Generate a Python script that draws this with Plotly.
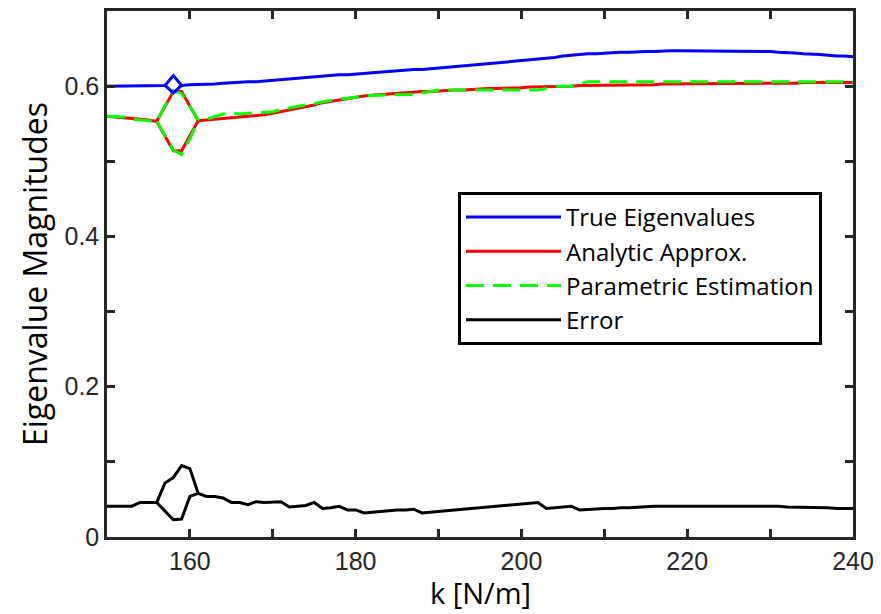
import plotly.graph_objects as go

# ---------------- data ----------------
k = list(range(150, 241))

true_eig = [
    0.600, 0.600, 0.600, 0.600, 0.600, 0.600, 0.600, 0.601, 0.614, 0.601,  # 150-159
    0.602, 0.602, 0.602, 0.603, 0.604, 0.605, 0.605, 0.606, 0.606, 0.607,  # 160-169
    0.608, 0.609, 0.610, 0.610, 0.611, 0.612, 0.613, 0.614, 0.615, 0.615,  # 170-179
    0.616, 0.617, 0.618, 0.619, 0.619, 0.620, 0.621, 0.622, 0.622, 0.623,  # 180-189
    0.624, 0.625, 0.626, 0.627, 0.628, 0.629, 0.630, 0.631, 0.632, 0.633,  # 190-199
    0.634, 0.635, 0.636, 0.637, 0.638, 0.640, 0.641, 0.642, 0.643, 0.643,  # 200-209
    0.644, 0.644, 0.645, 0.645, 0.646, 0.646, 0.646, 0.647, 0.647, 0.647,  # 210-219
    0.647, 0.647, 0.647, 0.647, 0.647, 0.647, 0.647, 0.647, 0.646, 0.646,  # 220-229
    0.646, 0.645, 0.645, 0.644, 0.643, 0.643, 0.642, 0.641, 0.640, 0.640,  # 230-239
    0.639,                                                                 # 240
]
true_eig_k2 = [157, 158, 159]
true_eig_2 = [0.601, 0.591, 0.601]

analytic = [
    0.560, 0.559, 0.558, 0.557, 0.556, 0.555, 0.553, 0.573, 0.593, 0.593,  # 150-159
    0.574, 0.554, 0.555, 0.556, 0.557, 0.558, 0.559, 0.560, 0.561, 0.562,  # 160-169
    0.564, 0.566, 0.568, 0.570, 0.573, 0.575, 0.578, 0.580, 0.582, 0.584,  # 170-179
    0.585, 0.587, 0.588, 0.589, 0.590, 0.591, 0.591, 0.592, 0.593, 0.593,  # 180-189
    0.594, 0.594, 0.595, 0.595, 0.596, 0.596, 0.597, 0.597, 0.597, 0.598,  # 190-199
    0.598, 0.599, 0.599, 0.599, 0.600, 0.600, 0.600, 0.601, 0.601, 0.601,  # 200-209
    0.601, 0.602, 0.602, 0.602, 0.602, 0.602, 0.602, 0.603, 0.603, 0.603,  # 210-219
    0.603, 0.603, 0.603, 0.603, 0.603, 0.604, 0.604, 0.604, 0.604, 0.604,  # 220-229
    0.604, 0.604, 0.604, 0.604, 0.605, 0.605, 0.605, 0.605, 0.605, 0.605,  # 230-239
    0.605,                                                                 # 240
]
analytic_k2 = [156, 157, 158, 159, 160, 161]
analytic_2 = [0.553, 0.534, 0.514, 0.514, 0.534, 0.554]

parametric = [
    0.560, 0.560, 0.559, 0.556, 0.555, 0.554, 0.553, 0.574, 0.594, 0.590,  # 150-159
    0.572, 0.555, 0.556, 0.560, 0.563, 0.564, 0.563, 0.564, 0.565, 0.565,  # 160-169
    0.566, 0.569, 0.571, 0.573, 0.575, 0.577, 0.579, 0.581, 0.583, 0.584,  # 170-179
    0.585, 0.586, 0.588, 0.588, 0.588, 0.588, 0.588, 0.589, 0.591, 0.593,  # 180-189
    0.595, 0.595, 0.595, 0.595, 0.595, 0.595, 0.595, 0.595, 0.595, 0.595,  # 190-199
    0.595, 0.595, 0.595, 0.597, 0.600, 0.600, 0.600, 0.603, 0.606, 0.606,  # 200-209
    0.606, 0.606, 0.606, 0.606, 0.606, 0.606, 0.606, 0.606, 0.606, 0.606,  # 210-219
    0.606, 0.606, 0.606, 0.606, 0.606, 0.606, 0.606, 0.606, 0.606, 0.606,  # 220-229
    0.606, 0.606, 0.606, 0.606, 0.606, 0.606, 0.606, 0.606, 0.606, 0.606,  # 230-239
    0.606,                                                                 # 240
]
parametric_k2 = [156, 157, 158, 159, 160, 161]
parametric_2 = [0.553, 0.533, 0.515, 0.509, 0.530, 0.555]

error = [
    0.041, 0.041, 0.041, 0.041, 0.046, 0.046, 0.046, 0.072, 0.079, 0.095,  # 150-159
    0.091, 0.058, 0.054, 0.054, 0.052, 0.046, 0.046, 0.043, 0.047, 0.046,  # 160-169
    0.046, 0.047, 0.040, 0.041, 0.042, 0.046, 0.038, 0.039, 0.041, 0.036,  # 170-179
    0.036, 0.032, 0.033, 0.034, 0.035, 0.036, 0.036, 0.037, 0.032, 0.033,  # 180-189
    0.034, 0.035, 0.036, 0.037, 0.038, 0.039, 0.040, 0.041, 0.042, 0.043,  # 190-199
    0.044, 0.045, 0.046, 0.038, 0.039, 0.040, 0.041, 0.036, 0.037, 0.037,  # 200-209
    0.038, 0.038, 0.039, 0.039, 0.040, 0.040, 0.041, 0.041, 0.041, 0.041,  # 210-219
    0.042, 0.042, 0.042, 0.042, 0.042, 0.042, 0.042, 0.042, 0.042, 0.041,  # 220-229
    0.041, 0.041, 0.040, 0.040, 0.040, 0.039, 0.039, 0.039, 0.038, 0.038,  # 230-239
    0.038,                                                                 # 240
]
error_k2 = [156, 157, 158, 159, 160, 161]
error_2 = [0.046, 0.035, 0.023, 0.024, 0.054, 0.058]

x_tickvals = list(range(150, 241, 10))
x_ticktext = ["", "160", "", "180", "", "200", "", "220", "", "240"]
y_tickvals = [0, 0.1, 0.2, 0.3, 0.4, 0.5, 0.6, 0.7]
y_ticktext = ["0", "", "0.2", "", "0.4", "", "0.6", ""]

series_names = ["True Eigenvalues", "Analytic Approx.", "Parametric Estimation", "Error"]
x_title = "k [N/m]"
y_title = "Eigenvalue Magnitudes"

# ---------------- figure ----------------
BLUE = "#0000ff"
RED = "#ff0000"
GREEN = "#00ff00"
BLACK = "#000000"
LW = 3
DASH = "18px,9px"

fig = go.Figure()
fig.add_trace(go.Scatter(x=k, y=true_eig, mode="lines", name=series_names[0],
                         line=dict(color=BLUE, width=LW)))
fig.add_trace(go.Scatter(x=k, y=analytic, mode="lines", name=series_names[1],
                         line=dict(color=RED, width=LW)))
fig.add_trace(go.Scatter(x=k, y=parametric, mode="lines", name=series_names[2],
                         line=dict(color=GREEN, width=LW, dash=DASH)))
fig.add_trace(go.Scatter(x=k, y=error, mode="lines", name=series_names[3],
                         line=dict(color=BLACK, width=LW)))

fig.add_trace(go.Scatter(x=true_eig_k2, y=true_eig_2, mode="lines", showlegend=False,
                         line=dict(color=BLUE, width=LW)))
fig.add_trace(go.Scatter(x=analytic_k2, y=analytic_2, mode="lines", showlegend=False,
                         line=dict(color=RED, width=LW)))
fig.add_trace(go.Scatter(x=parametric_k2, y=parametric_2, mode="lines", showlegend=False,
                         line=dict(color=GREEN, width=LW, dash=DASH)))
fig.add_trace(go.Scatter(x=error_k2, y=error_2, mode="lines", showlegend=False,
                         line=dict(color=BLACK, width=LW)))

AXC = "#262626"
TICKFONT = dict(family="Liberation Sans, Arial, sans-serif", size=25, color=AXC)
TITLEFONT = dict(family="Open Sans, sans-serif", size=32, color="black")
XTITLEFONT = dict(family="Open Sans, sans-serif", size=29, color="black")

fig.update_layout(
    width=881, height=614,
    margin=dict(l=107, r=28, t=11, b=77),
    paper_bgcolor="white", plot_bgcolor="white",
    showlegend=True,
    legend=dict(
        x=0.4705, y=0.656, xanchor="left", yanchor="top",
        bgcolor="white", bordercolor="black", borderwidth=3,
        font=dict(family="Open Sans, sans-serif", size=24, color="black"),
        tracegroupgap=0, itemwidth=95,
    ),
    annotations=[dict(
        text=x_title, xref="paper", yref="paper", x=0.5, y=-0.1455,
        xanchor="center", yanchor="bottom", showarrow=False,
        font=XTITLEFONT,
    )],
)
fig.update_xaxes(
    range=[150, 240], tickmode="array", tickvals=x_tickvals, ticktext=x_ticktext,
    ticks="inside", ticklen=8, tickwidth=2.5, tickcolor=AXC,
    showline=True, linewidth=2.5, linecolor=AXC, mirror="ticks",
    showgrid=False, zeroline=False, tickfont=TICKFONT, automargin=False,
)
fig.update_yaxes(
    range=[0, 0.7], tickmode="array", tickvals=y_tickvals, ticktext=y_ticktext,
    ticks="inside", ticklen=8, tickwidth=2.5, tickcolor=AXC,
    showline=True, linewidth=2.5, linecolor=AXC, mirror="ticks",
    showgrid=False, zeroline=False, tickfont=TICKFONT, automargin=False,
    title=dict(text=y_title, font=TITLEFONT, standoff=8),
)

fig.write_html("out.html")
